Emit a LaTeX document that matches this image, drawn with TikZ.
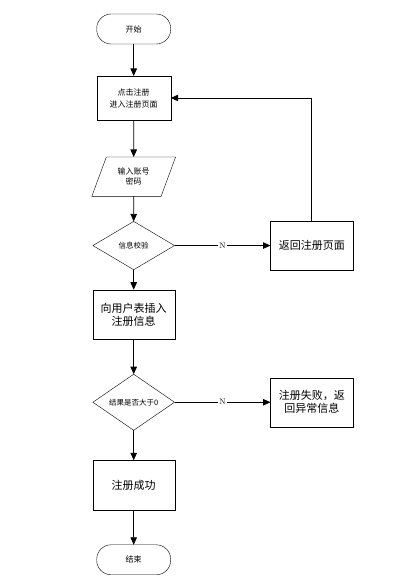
\documentclass[tikz,border=0pt]{standalone}
\usepackage{fontspec}
\newfontfamily\cjk{Noto Sans CJK SC}
\usepackage{tikz}
\usetikzlibrary{shapes.geometric, arrows.meta, positioning}

\begin{document}
\begin{tikzpicture}[
    x=1bp, y=1bp,
    tnode/.style={rectangle, draw=black, rounded corners=14.5bp, minimum width=74bp, minimum height=30bp, outer sep=0pt, inner sep=1bp, align=center, font=\cjk\fontsize{8bp}{11bp}\selectfont},
    pnode/.style={rectangle, draw=black, minimum width=82bp, minimum height=49.5bp, outer sep=0pt, inner sep=1bp, align=center, font=\cjk\fontsize{11bp}{13bp}\selectfont},
    inode/.style={trapezium, trapezium left angle=65, trapezium right angle=115, trapezium stretches=true, draw=black, minimum width=84bp, minimum height=39.4bp, outer sep=0pt, inner sep=1bp, align=center, font=\cjk\fontsize{8bp}{10bp}\selectfont},
    dnode/.style={diamond, draw=black, minimum width=81.6bp, minimum height=48.3bp, outer sep=0pt, inner sep=0pt, align=center, font=\cjk\fontsize{7.5bp}{9bp}\selectfont},
    arr/.style={-{Triangle[length=7.5bp, width=6.5bp]}, line width=0.8bp, color=black},
    lbl/.style={fill=white, inner sep=1pt, font=\fontsize{8bp}{9bp}\selectfont}
]
\useasboundingbox (0,0) rectangle (392,-583);

\node[tnode] (start) at (133.7,-29) {开始};
\node[pnode, minimum width=74bp, minimum height=44bp, font=\cjk\fontsize{8bp}{12bp}\selectfont, below=32bp of start] (click) {点击注册\\进入注册页面};
\node[inode, below=37bp of click] (input) {输入账号\\密码};
\node[dnode, below=25bp of input] (check) {信息校验};
\node[pnode, below=20bp of check] (insert) {向用户表插入\\注册信息};
\node[dnode, below=35bp of insert] (result) {结果是否大于0};
\node[pnode, below=30bp of result] (ok) {注册成功};
\node[tnode, below=35bp of ok] (stop) {结束};
\node[pnode, minimum width=82.6bp, minimum height=49bp, right=96bp of check] (back) {返回注册页面};
\node[pnode, minimum width=82.6bp, minimum height=49bp, right=96bp of result] (fail) {注册失败，返\\回异常信息};

\draw[arr] (start) -- (click);
\draw[arr] (click) -- (input);
\draw[arr] (input) -- (check);
\draw[arr] (check) -- (insert);
\draw[arr] (insert) -- (result);
\draw[arr] (result) -- (ok);
\draw[arr] (ok) -- (stop);
\draw[arr] (check) -- node[lbl] {N} (back);
\draw[arr] (result) -- node[lbl] {N} (fail);
\draw[arr] (back.north) |- (click.east);

\end{tikzpicture}
\end{document}
